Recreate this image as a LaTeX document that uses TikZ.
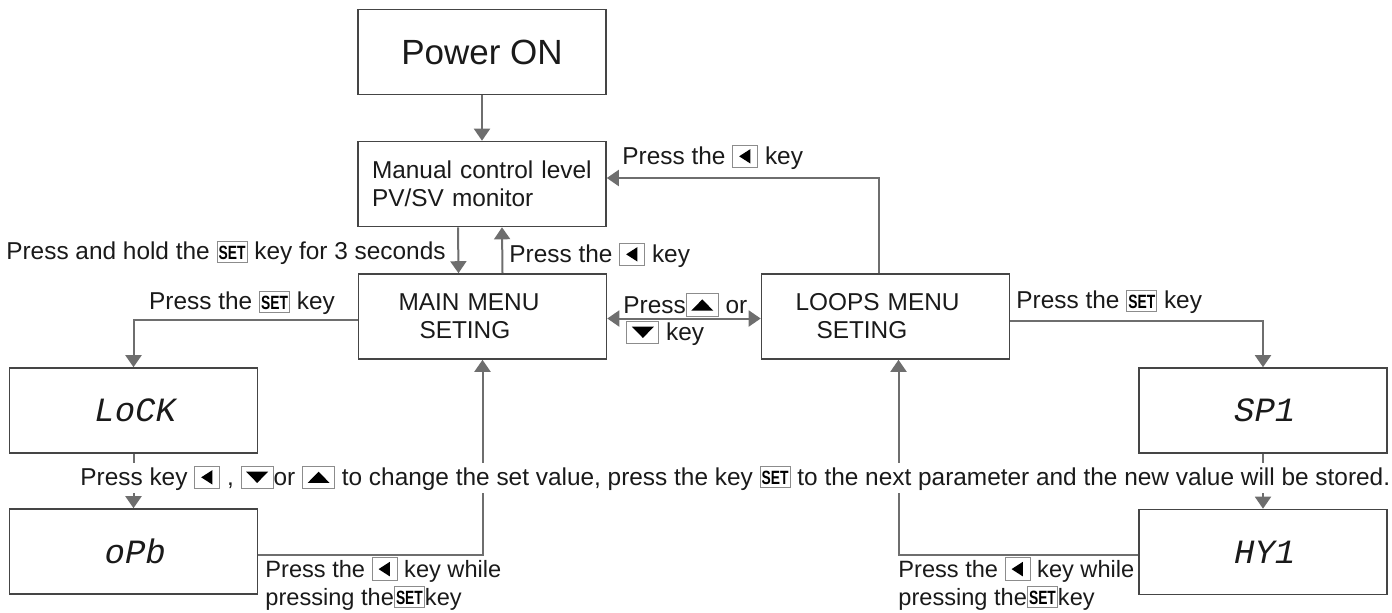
\documentclass[tikz,border=0pt]{standalone}
\usepackage{fontspec}
\setmainfont{Liberation Sans}
\newfontfamily\segfont[FakeSlant=0.2]{Liberation Mono}
\usepackage{graphicx}
\usetikzlibrary{arrows.meta}
\definecolor{linegray}{HTML}{6E6E6E}
\definecolor{boxgray}{HTML}{454545}
\definecolor{keygray}{HTML}{8C8C8C}
\definecolor{inkblack}{HTML}{1A1A1A}

\tikzset{
  panel/.style={draw=boxgray,line width=0.8pt,minimum width=124pt,minimum height=42.5pt,inner sep=0pt,text=inkblack},
  segpanel/.style={panel,font=\segfont\fontsize{17}{17}\selectfont},
  flow/.style={draw=linegray,line width=1pt,-{Triangle[length=6pt,width=8pt]}},
  twoway/.style={draw=linegray,line width=1pt,{Triangle[length=6pt,width=8pt]}-{Triangle[length=6pt,width=8pt]}},
  tag/.style={inner sep=0pt,text=inkblack,font=\fontsize{12.2}{14}\selectfont},
  keyedge/.style={draw=keygray,line width=0.5pt}
}

\newcommand{\keyleft}{\tikz[baseline=0pt,x=1pt,y=1pt]{\draw[keyedge] (0,-1.6) rectangle (12.5,9.6); \fill[black] (3.2,4) -- (8.8,7.6) -- (8.8,0.4) -- cycle;}}
\newcommand{\keyup}{\tikz[baseline=0pt,x=1pt,y=1pt]{\draw[keyedge] (0,-1.6) rectangle (16,9.6); \fill[black] (2.5,1.2) -- (13.5,1.2) -- (8,6.8) -- cycle;}}
\newcommand{\keydown}{\tikz[baseline=0pt,x=1pt,y=1pt]{\draw[keyedge] (0,-1.6) rectangle (16,9.6); \fill[black] (2.5,6.8) -- (13.5,6.8) -- (8,1.2) -- cycle;}}
\newcommand{\keyset}{\tikz[baseline=0pt,x=1pt,y=1pt]{\draw[keyedge] (0,-1.2) rectangle (15,9.2); \node[inner sep=0pt,anchor=base,text=black] at (7.5,0.4) {\fontsize{9.6}{9.6}\selectfont\bfseries\scalebox{0.72}[1]{SET}};}}

\begin{document}
\begin{tikzpicture}[x=0.5pt,y=-0.5pt]
  \useasboundingbox (0,0) rectangle (1392,612);

  \node[panel,font=\fontsize{17.5}{20}\selectfont] (power) at (482,52) {Power ON};
  \node[panel,align=left,text width=110pt,inner xsep=7pt,font=\fontsize{12.2}{14}\selectfont] (manual) at (482,184)
    {Manual control level\\PV/SV monitor};
  \node[panel,align=left,text width=124pt,font=\fontsize{12.2}{14}\selectfont] (mainmenu) at (482.5,316.5)
    {\hspace*{20pt}MAIN MENU\\\hspace*{30.5pt}SETING};
  \node[panel,align=left,text width=124pt,font=\fontsize{12.2}{14}\selectfont] (loops) at (885.5,316.5)
    {\hspace*{17pt}LOOPS MENU\\\hspace*{27.5pt}SETING};

  \foreach \name/\pos/\word in {
    locy/{133.5,410.5}/LoCK,
    opb/{133.5,551.5}/oPb,
    spone/{1263,410.5}/SP1,
    hyone/{1263,552}/HY1
  } {
    \node[segpanel] (\name) at (\pos) {\word};
  }

  \draw[flow] (power) -- (manual);
  \draw[flow] ([xshift=-12pt]manual.south) -- ([xshift=-12pt]mainmenu.north);
  \draw[flow] ([xshift=10pt]mainmenu.north) -- ([xshift=10pt]manual.south);
  \draw[flow] ([xshift=-3.5pt]loops.north) |- ([yshift=3pt]manual.east);
  \draw[twoway] ([yshift=-1pt]mainmenu.east) -- ([yshift=-1pt]loops.west);
  \draw[flow] ([yshift=-1.5pt]mainmenu.west) -| (locy.north);
  \draw[flow] ([yshift=-2pt]loops.east) -| (spone.north);
  \draw[flow] (locy) -- (opb);
  \draw[flow] (spone) -- (hyone);
  \draw[flow] ([yshift=-1.5pt]opb.east) -| (mainmenu.south);
  \draw[flow] ([yshift=-1.5pt]hyone.west) -| ([xshift=6.5pt]loops.south);

  \node[tag,anchor=east] (holdtag) at (446,253) {Press and hold the \keyset{} key for 3 seconds};
  \node[tag,anchor=west] (backtag) at (509,255) {Press the \keyleft{} key};
  \node[tag,anchor=west] (returntag) at (622,157) {Press the \keyleft{} key};
  \node[tag,anchor=west] (uptag) at (623,305) {Press\keyup{} or};
  \node[tag,anchor=west] (downtag) at (626,333) {\keydown{} key};
  \node[tag] (setltag) at (242,303) {Press the \keyset{} key};
  \node[tag,anchor=west] (setrtag) at (1016,302) {Press the \keyset{} key};
  \node[tag,anchor=north west,align=left,font=\fontsize{11.8}{14}\selectfont] (opbtag) at (265,557)
    {Press the \keyleft{} key while\\pressing the\keyset{}key};
  \node[tag,anchor=north west,align=left,font=\fontsize{11.8}{14}\selectfont] (hyonetag) at (898,557)
    {Press the \keyleft{} key while\\pressing the\keyset{}key};
  \node[tag,fill=white,inner ysep=1.5pt,anchor=west] (changetag) at (80,478)
    {Press key \keyleft{} , \keydown{}or \keyup{} to change the set value, press the key \keyset{} to the next parameter and the new value will be stored.};
\end{tikzpicture}
\end{document}
